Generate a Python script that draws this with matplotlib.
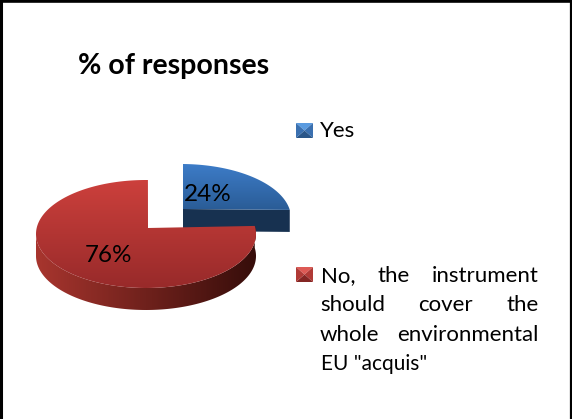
import numpy as np
import matplotlib
matplotlib.use('Agg')
import matplotlib.pyplot as plt
from matplotlib.patches import Polygon
from matplotlib.colors import LinearSegmentedColormap

title = '% of responses'
categories = ['Yes', 'No, the instrument should cover the whole environmental EU "acquis"']
shares = [24, 76]
labels = ['24%', '76%']

plt.rcParams['font.family'] = ['Lato', 'DejaVu Sans']

fig = plt.figure(figsize=(5.72, 4.19), dpi=100)
ax = fig.add_axes([0, 0, 1, 1])
ax.set_xlim(0, 572)
ax.set_ylim(419, 0)
ax.axis('off')


def rim(cx, cy, start, end, a=110, b=54):
    # angles run clockwise from 12 o'clock
    t = np.radians(np.linspace(start, end, 200))
    return cx + a * np.sin(t), cy - b * np.cos(t)


def fill_gradient(pts, c1, c2, horizontal=False):
    # gradient picture clipped to the polygon
    xs, ys = pts[:, 0], pts[:, 1]
    cmap = LinearSegmentedColormap.from_list('g', [c1, c2])
    g = np.linspace(0, 1, 256)
    g = g.reshape(1, -1) if horizontal else g.reshape(-1, 1)
    im = ax.imshow(g, cmap=cmap, aspect='auto', interpolation='bilinear',
                   extent=[xs.min(), xs.max(), ys.max(), ys.min()], zorder=2)
    poly = Polygon(pts, closed=True, transform=ax.transData, fc='none', ec='none')
    ax.add_patch(poly)
    im.set_clip_path(poly)


depth = 22
tilt = 5  # the 3D view squeezes the slice boundary a little
end_yes = 360 * shares[0] / sum(shares) - tilt

# Yes slice, pulled out
hub_x, hub_y = 183, 209
x, y = rim(181, 218, 1, end_yes)
side = np.array([[hub_x, hub_y], [x[-1], y[-1]], [x[-1], y[-1] + depth], [hub_x, hub_y + depth]])
ax.add_patch(Polygon(side, closed=True, fc='#173150', ec='none', zorder=2))
fill_gradient(np.column_stack([np.r_[hub_x, x], np.r_[hub_y, y]]), '#3D7CC8', '#2A5C96')

# No slice
hub_x, hub_y = 148, 228
x, y = rim(146, 234, end_yes, 361)
fx, fy = rim(146, 234, end_yes, 270)
side = np.column_stack([np.r_[fx, fx[::-1]], np.r_[fy, fy[::-1] + depth]])
fill_gradient(side, '#A8352E', '#360D0A', horizontal=True)
fill_gradient(np.column_stack([np.r_[hub_x, x], np.r_[hub_y, y]]), '#CC403C', '#982A2A')

ax.set_xlim(0, 572)
ax.set_ylim(419, 0)

# frame
ax.plot([1, 1], [0, 419], color='black', lw=2.2, zorder=5)
ax.plot([0, 572], [1, 1], color='black', lw=2.6, zorder=5)
ax.plot([571, 571], [0, 419], color='black', lw=1.6, zorder=5)

ax.text(174, 66, title, fontsize=20.5, fontweight='bold', ha='center', va='center', color='black')
ax.text(208, 194, labels[0], fontsize=17.5, ha='center', va='center', color='black', zorder=6)
ax.text(108, 255, labels[1], fontsize=17.5, ha='center', va='center', color='black', zorder=6)


def bevel(x0, y0, w, h, top, left, right, bottom):
    box = [(x0, y0), (x0 + w, y0), (x0 + w, y0 + h), (x0, y0 + h)]
    c = (x0 + w / 2, y0 + h / 2)
    for i, col in enumerate([top, right, bottom, left]):
        ax.add_patch(Polygon([box[i], box[(i + 1) % 4], c], fc=col, ec='none', zorder=3))


bevel(296, 123, 17, 15, '#5A9BE0', '#3A70B0', '#3A70B0', '#2A5688')
bevel(296, 267, 17, 15, '#DD5A55', '#B03A36', '#B03A36', '#842624')

# legend text, justified by hand
fs = 16
ax.text(320, 131, 'Yes', fontsize=fs, va='center', ha='left')
ax.text(321, 276, 'No,', fontsize=fs, va='center', ha='left')
ax.text(377, 276, 'the', fontsize=fs, va='center', ha='left')
ax.text(539, 276, 'instrument', fontsize=fs, va='center', ha='right')
ax.text(320, 305, 'should', fontsize=fs, va='center', ha='left')
ax.text(418, 305, 'cover', fontsize=fs, va='center', ha='left')
ax.text(539, 305, 'the', fontsize=fs, va='center', ha='right')
ax.text(320, 335, 'whole', fontsize=fs, va='center', ha='left')
ax.text(539, 335, 'environmental', fontsize=fs, va='center', ha='right')
ax.text(321, 364, 'EU "acquis"', fontsize=15, va='center', ha='left')

fig.savefig('out.png', dpi=100)
